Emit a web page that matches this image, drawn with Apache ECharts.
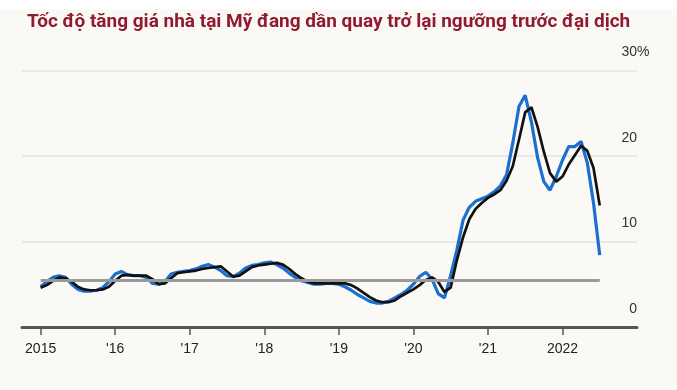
<!DOCTYPE html>
<html><head><meta charset="utf-8">
<script src="https://cdn.jsdelivr.net/npm/echarts@6/dist/echarts.min.js"></script>
<style>html,body{margin:0;padding:0;background:#faf9f5;}#c{width:677px;height:390px;}</style>
</head><body><div id="c"></div>
<script>
const titleText = 'Tốc độ tăng giá nhà tại Mỹ đang dần quay trở lại ngưỡng trước đại dịch';
// monthly, Jan 2015 (index 0) .. Jul 2022 (index 90)
const blueSeries = [4.7,5.3,5.8,6.0,5.8,5.0,4.4,4.2,4.2,4.3,4.6,5.3,
  6.2,6.5,6.1,6.0,6.0,5.8,5.1,5.0,5.3,6.2,6.4,6.5,
  6.6,6.8,7.1,7.3,7.0,6.6,6.0,5.9,6.3,6.9,7.2,7.3,
  7.5,7.6,7.3,6.9,6.3,5.8,5.4,5.2,5.0,5.0,5.1,5.1,
  5.0,4.7,4.3,3.8,3.4,3.0,2.8,2.8,3.0,3.4,3.8,4.3,
  5.0,5.9,6.4,5.6,3.9,3.4,6.0,9.0,12.5,14.0,14.7,15.0,
  15.3,15.8,16.5,17.8,21.5,25.8,27.1,24.0,19.8,17.0,16.0,17.6,
  19.5,21.1,21.1,21.7,19.2,14.5,8.4];
const blackSeries = [4.6,4.9,5.4,5.8,5.7,5.3,4.7,4.4,4.3,4.3,4.4,4.7,
  5.4,6.0,6.1,6.0,6.0,6.0,5.6,5.0,5.1,5.7,6.3,6.4,
  6.5,6.6,6.8,6.9,7.0,7.1,6.5,5.9,6.0,6.5,7.0,7.2,
  7.3,7.4,7.5,7.3,6.8,6.2,5.7,5.3,5.1,5.1,5.1,5.1,
  5.1,5.1,4.9,4.5,4.0,3.5,3.1,2.9,2.9,3.1,3.6,4.0,
  4.4,4.9,5.5,5.8,5.3,4.1,4.6,7.8,10.5,12.6,13.8,14.5,
  15.1,15.5,16.0,17.1,18.8,21.9,25.1,25.7,23.4,20.5,18.0,17.0,
  17.6,19.0,20.1,21.2,20.6,18.6,14.2];
const baselineValue = 5.5;
const yearTickMonths = [0,12,24,36,48,60,72,84];
const yearLabels = ['2015',"'16","'17","'18","'19","'20","'21",'2022'];

const toPts = arr => arr.map((v,i)=>[i,v]);
const lastIdx = blackSeries.length-1;
const numFont = '"Liberation Sans Narrow","Liberation Sans",Arial,sans-serif';

const chart = echarts.init(document.getElementById('c'), null, {renderer:'canvas'});
chart.setOption({
  backgroundColor:'#faf9f5',
  animation:false,
  title:{text:titleText,left:22,top:8,textStyle:{color:'#921a2e',fontSize:19,fontWeight:'bold',fontFamily:'"Liberation Sans Narrow","Roboto",sans-serif'}},
  grid:{left:22,right:40,top:70.5,bottom:63},
  xAxis:{type:'value',min:-3,max:96,
    axisLine:{show:true,lineStyle:{color:'#555',width:3}},
    axisTick:{show:true,customValues:yearTickMonths,length:8,lineStyle:{color:'#555',width:1.5}},
    axisLabel:{customValues:yearTickMonths,formatter:v=>yearLabels[yearTickMonths.indexOf(v)],color:'#222',fontSize:14,fontFamily:numFont,margin:15},
    splitLine:{show:false}},
  yAxis:{type:'value',position:'right',min:0,max:30,interval:10,
    axisLine:{show:false},axisTick:{show:false},
    axisLabel:{inside:true,margin:0,align:'right',verticalAlign:'bottom',padding:[0,0,11,0],color:'#333',fontSize:14,fontFamily:numFont,
      formatter:v=>String(v)},
    splitLine:{lineStyle:{color:'#e9e8e4',width:2}}},
  graphic:[
    {type:'rect',left:0,top:0,shape:{width:677,height:9},style:{fill:'#ffffff'},z:-1},
    {type:'text',left:637,top:45,style:{text:'%',fill:'#333',font:'14px '+numFont}}],
  series:[
    {type:'line',data:toPts(blueSeries),symbol:'none',lineStyle:{color:'#1b6fd2',width:3.2},z:3,
      markLine:{silent:true,symbol:'none',label:{show:false},lineStyle:{color:'#9a9a9a',width:3,type:'solid'},
        data:[[{coord:[0,baselineValue]},{coord:[lastIdx,baselineValue]}]]}},
    {type:'line',data:toPts(blackSeries),symbol:'none',lineStyle:{color:'#111',width:2.7},z:4}
  ]
});
</script></body></html>
